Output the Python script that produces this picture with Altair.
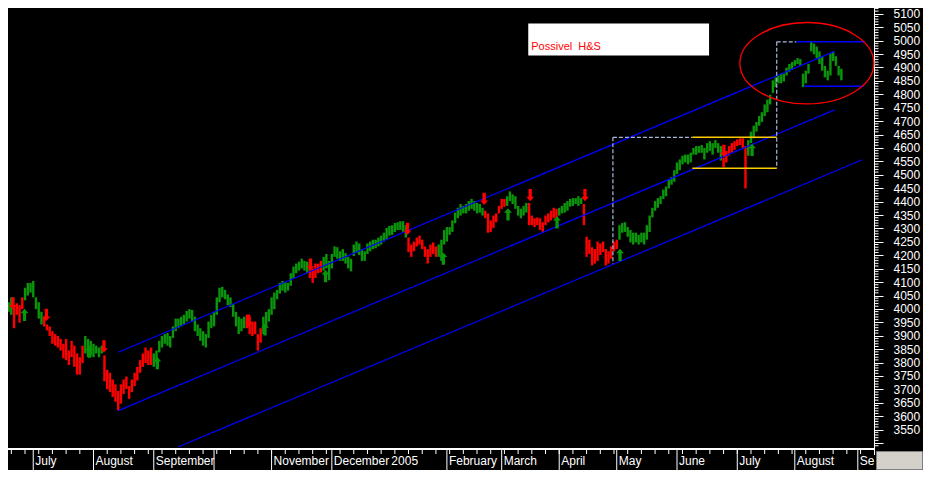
import altair as alt
import pandas as pd

W, H = 866, 440
PAD_R, PAD_B = 49, 22
X_DOM = [-0.215, 315.91]
Y_DOM = [3481.6, 5121.6]
GREEN = "#0a960a"
RED = "#ff0000"

# ---- daily highs (trading-day order) ----
hi_jun04 = [4025, 4043, 4007, 4021, 4014, 4043, 4079, 4097, 4097]
hi_jul04 = [4104, 4043, 4025, 3989, 3971, 3942, 3935, 3917, 3906, 3899, 3888, 3870, 3888, 3845, 3881, 3863, 3834, 3820, 3863, 3899, 3888, 3881]
hi_aug04 = [3870, 3863, 3856, 3863, 3827, 3773, 3762, 3737, 3719, 3694, 3719, 3737, 3748, 3712, 3737, 3762, 3784, 3809, 3834, 3856, 3845, 3856]
hi_sep04 = [3834, 3845, 3881, 3899, 3906, 3910, 3899, 3935, 3964, 3964, 3971, 3978, 3992, 3999, 3996, 3971, 3942, 3928, 3917, 3906, 3953, 3978]
hi_oct04 = [3989, 4043, 4079, 4082, 4071, 4054, 4043, 4018, 3989, 3971, 3964, 3971, 3978, 3971, 3953, 3953, 3906, 3928, 3971, 3989, 3999]
hi_nov04 = [4043, 4061, 4071, 4097, 4104, 4100, 4097, 4133, 4158, 4169, 4176, 4187, 4179, 4176, 4169, 4151, 4169, 4169, 4179, 4194, 4205, 4179]
hi_dec04 = [4205, 4233, 4230, 4215, 4223, 4208, 4194, 4187, 4240, 4251, 4244, 4223, 4215, 4244, 4251, 4258, 4258, 4266, 4273, 4284, 4302]
hi_jan05 = [4309, 4312, 4320, 4323, 4327, 4327, 4312, 4266, 4240, 4251, 4266, 4273, 4258, 4233, 4223, 4240, 4248, 4233, 4240, 4258, 4294]
hi_feb05 = [4305, 4305, 4330, 4359, 4377, 4391, 4384, 4391, 4402, 4410, 4402, 4395, 4391, 4377, 4366, 4356, 4330, 4348, 4356, 4384]
hi_mar05 = [4410, 4410, 4420, 4438, 4427, 4420, 4384, 4373, 4384, 4395, 4395, 4348, 4338, 4341, 4338, 4323, 4348, 4356, 4366, 4377, 4373]
hi_apr05 = [4377, 4384, 4395, 4402, 4410, 4413, 4413, 4420, 4413, 4391, 4269, 4258, 4230, 4223, 4251, 4244, 4251, 4223, 4215, 4233, 4251]
hi_may05 = [4258, 4312, 4320, 4323, 4305, 4294, 4284, 4284, 4276, 4284, 4284, 4312, 4348, 4377, 4402, 4413, 4420, 4445, 4456, 4481, 4492, 4517]
hi_jun05 = [4546, 4557, 4571, 4575, 4575, 4582, 4600, 4607, 4607, 4611, 4600, 4618, 4625, 4618, 4629, 4618, 4607, 4564, 4589, 4607, 4618, 4625]
hi_jul05 = [4632, 4636, 4636, 4607, 4629, 4661, 4683, 4697, 4719, 4733, 4762, 4780, 4798, 4852, 4863, 4870, 4877, 4877, 4899, 4913, 4920]
hi_aug05 = [4927, 4935, 4931, 4877, 4888, 4913, 4996, 4989, 4978, 4960, 4942, 4906, 4888, 4953, 4960, 4942, 4906, 4895]

# ---- daily lows ----
lo_jun04 = [3989, 3978, 3928, 3978, 3949, 3999, 4032, 4050, 4061]
lo_jul04 = [4043, 3999, 3964, 3942, 3935, 3920, 3899, 3870, 3863, 3856, 3845, 3816, 3809, 3791, 3820, 3784, 3755, 3755, 3798, 3834, 3820, 3827]
lo_aug04 = [3820, 3834, 3820, 3834, 3730, 3701, 3690, 3672, 3654, 3622, 3647, 3683, 3701, 3665, 3690, 3712, 3733, 3762, 3784, 3798, 3791, 3791]
lo_sep04 = [3784, 3798, 3838, 3856, 3870, 3863, 3856, 3892, 3917, 3928, 3935, 3942, 3953, 3964, 3953, 3917, 3899, 3881, 3863, 3856, 3892, 3928]
lo_oct04 = [3935, 3978, 4025, 4043, 4036, 4014, 4007, 3971, 3935, 3906, 3917, 3928, 3928, 3906, 3899, 3906, 3845, 3874, 3906, 3935, 3953]
lo_nov04 = [3978, 3999, 4036, 4057, 4068, 4061, 4068, 4086, 4115, 4133, 4143, 4151, 4143, 4133, 4115, 4097, 4115, 4133, 4136, 4143, 4151, 4107]
lo_dec04 = [4151, 4194, 4187, 4179, 4179, 4169, 4151, 4140, 4197, 4208, 4201, 4179, 4179, 4205, 4215, 4223, 4226, 4233, 4240, 4251, 4258]
lo_jan05 = [4273, 4276, 4287, 4294, 4294, 4287, 4266, 4212, 4194, 4215, 4233, 4240, 4223, 4194, 4169, 4194, 4205, 4194, 4194, 4179, 4240]
lo_feb05 = [4251, 4276, 4287, 4320, 4338, 4348, 4356, 4356, 4366, 4373, 4366, 4356, 4359, 4348, 4338, 4284, 4287, 4302, 4323, 4356]
lo_mar05 = [4373, 4381, 4384, 4402, 4391, 4373, 4348, 4338, 4348, 4359, 4312, 4312, 4305, 4312, 4294, 4284, 4312, 4323, 4330, 4338, 4341]
lo_apr05 = [4348, 4356, 4359, 4366, 4381, 4384, 4391, 4384, 4391, 4312, 4194, 4205, 4162, 4169, 4179, 4201, 4212, 4162, 4169, 4187, 4215]
lo_may05 = [4223, 4258, 4284, 4287, 4269, 4248, 4240, 4248, 4240, 4248, 4240, 4258, 4287, 4341, 4366, 4377, 4391, 4410, 4420, 4449, 4463, 4474]
lo_jun05 = [4503, 4517, 4539, 4546, 4539, 4546, 4575, 4575, 4582, 4582, 4557, 4582, 4589, 4575, 4600, 4582, 4553, 4528, 4546, 4571, 4582, 4593]
lo_jul05 = [4607, 4611, 4600, 4449, 4571, 4618, 4636, 4661, 4683, 4697, 4719, 4733, 4762, 4805, 4827, 4841, 4841, 4848, 4870, 4884, 4891]
lo_aug05 = [4906, 4913, 4906, 4827, 4841, 4877, 4960, 4949, 4935, 4913, 4888, 4863, 4852, 4870, 4924, 4906, 4870, 4852]

# ---- trend colour runs (g = green, r = red) ----
color_runs = [("g", 2), ("r", 4), ("g", 7), ("r", 15), ("g", 7), ("r", 18), ("g", 34), ("r", 6),
              ("g", 17), ("r", 5), ("g", 31), ("r", 11), ("g", 17), ("r", 8), ("g", 8), ("r", 11),
              ("g", 9), ("r", 13), ("g", 38), ("r", 9), ("g", 35)]

# ---- signal arrows (trading-day index, price) ----
down_idx = [1.6, 13.8, 34.8, 87.6, 110.2, 145.6, 173.6, 190.4, 210.4, 261.1]
down_px = [4021, 3978, 3860, 3956, 4165, 4298, 4410, 4424, 4424, 4589]
up_idx = [5.8, 29.6, 54.3, 93.6, 115.7, 158.7, 182.3, 200.2, 223.2, 271.4]
up_px = [3978, 3841, 3798, 3924, 4122, 4187, 4352, 4323, 4201, 4593]

# ---- channel lines ----
chan_x0 = [40.0, 40.0, 61.8]
chan_y0 = [3838.7, 3620.8, 3485.2]
chan_x1 = [301.5, 301.5, 311.6]
chan_y1 = [4959.8, 4741.8, 4555.9]

# ---- dashed boxes ----
dash_x0 = [220.6, 220.6, 280.4, 280.4]
dash_y0 = [4639.7, 4639.7, 4995.7, 4995.7]
dash_x1 = [249.6, 220.6, 280.4, 287.6]
dash_y1 = [4639.7, 4168.5, 4524.6, 4995.7]

# ---- yellow range lines ----
yel_x0 = [249.6, 249.6]
yel_x1 = [280.4, 280.4]
yel_y = [4639.7, 4524.6]

# ---- blue range lines (top region) ----
blu_x0 = [287.6, 290.5]
blu_x1 = [312.3, 312.3]
blu_y = [4995.7, 4830.3]

# ---- ellipse / note ----
ell_idx = [291.4]
ell_px = [4915.9]
note_x0, note_x1 = [189.7], [255.7]
note_y0, note_y1 = [5064.1], [4944.3]
note_tx, note_ty = [190.8], [4963.4]
note_text = ["Possivel\u00a0 H&S"]

# ---- x axis (months) ----
month_idx = [9, 31, 53, 75, 96, 118, 139, 160, 180, 201, 222, 244, 266, 287, 310]
month_lbl = ["July", "August", "September", "", "November", "December", "2005", "February",
             "March", "April", "May", "June", "July", "August", "Se"]
month_sep = [1, 1, 1, 1, 1, 1, 0, 1, 1, 1, 1, 1, 1, 1, 1]
week_ticks = list(range(1, 312, 5))

# ---- y axis ticks ----
y_major = list(range(3500, 5101, 50))
y_minor = [v for v in range(3490, 5121, 10) if v % 50 != 0]

highs = (hi_jun04 + hi_jul04 + hi_aug04 + hi_sep04 + hi_oct04 + hi_nov04 + hi_dec04 + hi_jan05
         + hi_feb05 + hi_mar05 + hi_apr05 + hi_may05 + hi_jun05 + hi_jul05 + hi_aug05)
lows = (lo_jun04 + lo_jul04 + lo_aug04 + lo_sep04 + lo_oct04 + lo_nov04 + lo_dec04 + lo_jan05
        + lo_feb05 + lo_mar05 + lo_apr05 + lo_may05 + lo_jun05 + lo_jul05 + lo_aug05)
colors = [c for c, n in color_runs for _ in range(n)]
n = min(len(highs), len(lows), len(colors))
bars = pd.DataFrame({"i": list(range(n)), "hi": highs[:n], "lo": lows[:n], "c": colors[:n]})

xs = alt.Scale(domain=X_DOM, nice=False, zero=False)
ys = alt.Scale(domain=Y_DOM, nice=False, zero=False)

y_axis = alt.Axis(orient="right", values=y_major, format="d",
                  labelExpr="datum.value >= 3550 ? datum.label : ''",
                  labelColor="white", labelFont="Liberation Sans", labelFontSize=12,
                  labelPadding=10, labelOverlap=False, labelFlush=False, labelBaseline="middle",
                  tickColor="white", tickSize=9, tickWidth=1,
                  domainColor="white", domainWidth=1, grid=False, title=None)


def X(f):
    return alt.X(f, type="quantitative", scale=xs, axis=None)


def Y(f):
    return alt.Y(f, type="quantitative", scale=ys, axis=y_axis, title=None)


bar_layer = alt.Chart(bars).mark_rule(strokeWidth=2.4).encode(
    x=X("i"),
    y=Y("lo"),
    y2="hi:Q",
    color=alt.Color("c:N", scale=alt.Scale(domain=["g", "r"], range=[GREEN, RED]), legend=None),
)

minor_df = pd.DataFrame({"v": y_minor})
minor_layer = alt.Chart(minor_df).mark_rule(color="white", strokeWidth=1).encode(
    y=Y("v"), x=alt.value(W), x2=alt.value(W + 4.5))

chan_df = pd.DataFrame({"x0": chan_x0, "y0": chan_y0, "x1": chan_x1, "y1": chan_y1})
chan_layer = alt.Chart(chan_df).mark_rule(color="#0000ff", strokeWidth=1.2).encode(
    x=X("x0"), y=Y("y0"), x2="x1:Q", y2="y1:Q")

dash_df = pd.DataFrame({"x0": dash_x0, "y0": dash_y0, "x1": dash_x1, "y1": dash_y1})
dash_layer = alt.Chart(dash_df).mark_rule(color="#a8b8dc", strokeWidth=1.2, strokeDash=[4, 2]).encode(
    x=X("x0"), y=Y("y0"), x2="x1:Q", y2="y1:Q")

yel_df = pd.DataFrame({"x0": yel_x0, "x1": yel_x1, "y": yel_y})
yel_layer = alt.Chart(yel_df).mark_rule(color="#ffcc00", strokeWidth=1.5).encode(
    x=X("x0"), x2="x1:Q", y=Y("y"))

blu_df = pd.DataFrame({"x0": blu_x0, "x1": blu_x1, "y": blu_y})
blu_layer = alt.Chart(blu_df).mark_rule(color="#0000ff", strokeWidth=1.5).encode(
    x=X("x0"), x2="x1:Q", y=Y("y"))

ELLIPSE = ("M 1 0 C 1 0.335 0.552 0.607 0 0.607 C -0.552 0.607 -1 0.335 -1 0 "
           "C -1 -0.335 -0.552 -0.607 0 -0.607 C 0.552 -0.607 1 -0.335 1 0 Z")
ell_df = pd.DataFrame({"x": ell_idx, "y": ell_px})
ell_layer = alt.Chart(ell_df).mark_point(shape=ELLIPSE, size=17956, filled=False, color=RED,
                                         strokeWidth=1.3, opacity=1).encode(x=X("x"), y=Y("y"))

DOWN = "M -0.27 -1 L 0.27 -1 L 0.27 0.27 L 0.64 0.27 L 0 1 L -0.64 0.27 L -0.27 0.27 Z"
UP = "M -0.27 1 L 0.27 1 L 0.27 -0.27 L 0.64 -0.27 L 0 -1 L -0.64 -0.27 L -0.27 -0.27 Z"
down_df = pd.DataFrame({"x": down_idx, "y": down_px})
up_df = pd.DataFrame({"x": up_idx, "y": up_px})
down_layer = alt.Chart(down_df).mark_point(shape=DOWN, size=150, filled=True, color=RED, opacity=1,
                                           strokeWidth=0).encode(x=X("x"), y=Y("y"))
up_layer = alt.Chart(up_df).mark_point(shape=UP, size=150, filled=True, color=GREEN, opacity=1,
                                       strokeWidth=0).encode(x=X("x"), y=Y("y"))

note_df = pd.DataFrame({"x0": note_x0, "x1": note_x1, "y0": note_y0, "y1": note_y1})
note_box = alt.Chart(note_df).mark_rect(color="white").encode(
    x=X("x0"), x2="x1:Q", y=Y("y0"), y2="y1:Q")
note_txt_df = pd.DataFrame({"x": note_tx, "y": note_ty, "t": note_text})
note_txt = alt.Chart(note_txt_df).mark_text(align="left", baseline="alphabetic", color=RED,
                                            font="Liberation Sans", fontSize=11).encode(
    x=X("x"), y=Y("y"), text="t:N")

one = pd.DataFrame({"a": [0]})
strip_line = alt.Chart(one).mark_rule(color="white", strokeWidth=2).encode(
    x=alt.value(0), x2=alt.value(W), y=alt.value(H + 1))
axis_ext = alt.Chart(one).mark_rule(color="white", strokeWidth=1).encode(
    x=alt.value(W + 0.5), y=alt.value(H), y2=alt.value(H + 7))

sep_df = pd.DataFrame({"m": [m for m, s in zip(month_idx, month_sep) if s]})
sep_layer = alt.Chart(sep_df).mark_rule(color="white", strokeWidth=1).encode(
    x=X("m"), y=alt.value(H + 1), y2=alt.value(H + PAD_B))

wk_df = pd.DataFrame({"w": week_ticks})
wk_layer = alt.Chart(wk_df).mark_rule(color="white", strokeWidth=1).encode(
    x=X("w"), y=alt.value(H + 1), y2=alt.value(H + 6))

mon_df = pd.DataFrame({"m": month_idx, "t": month_lbl})
mon_layer = alt.Chart(mon_df).mark_text(align="left", baseline="alphabetic", color="white",
                                        font="Liberation Sans", fontSize=12, dx=2).encode(
    x=X("m"), y=alt.value(H + 17), text="t:N")

gray_box = alt.Chart(one).mark_rect(fill="#d4d1cb", stroke="#808080", strokeWidth=1).encode(
    x=alt.value(W + 2.5), x2=alt.value(W + PAD_R - 0.5), y=alt.value(H + 3.5), y2=alt.value(H + PAD_B - 0.5))

chart = alt.layer(
    bar_layer, minor_layer, chan_layer, dash_layer, yel_layer, blu_layer, ell_layer,
    down_layer, up_layer, note_box, note_txt,
    strip_line, axis_ext, sep_layer, wk_layer, mon_layer, gray_box,
).properties(
    width=W, height=H, background="black",
    padding={"left": 0, "top": 0, "right": PAD_R, "bottom": PAD_B},
    autosize=alt.AutoSizeParams(type="none"),
).configure_view(strokeWidth=0)

chart.save("out.html", embed_options={"renderer": "svg", "actions": False})
